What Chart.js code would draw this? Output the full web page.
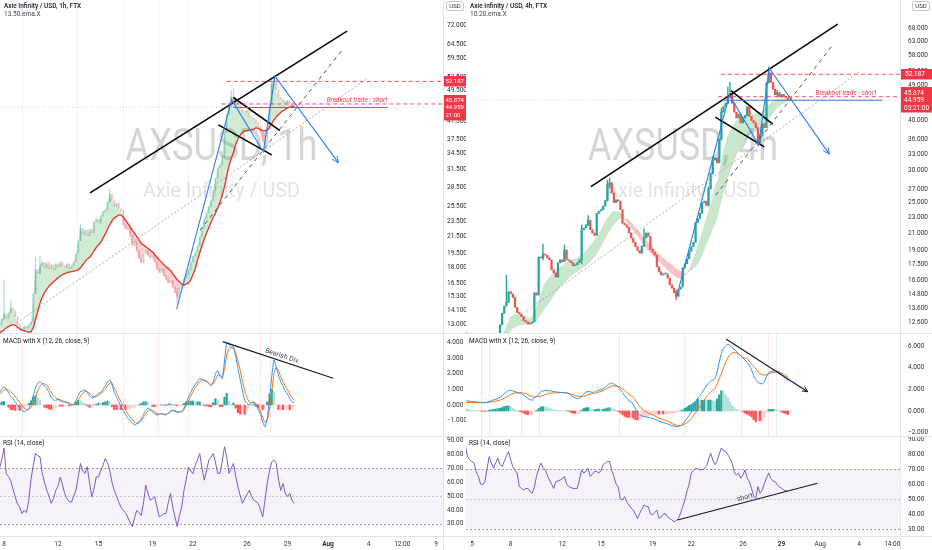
<!DOCTYPE html>
<html>
<head>
<meta charset="utf-8">
<script src="https://cdn.jsdelivr.net/npm/chart.js@4.4.0/dist/chart.umd.min.js"></script>
<style>
  html, body { margin: 0; padding: 0; background: #fff; }
  #wrap { position: relative; width: 932px; height: 550px; overflow: hidden; }
  canvas { position: absolute; }
</style>
</head>
<body>
<div id="wrap">
  <canvas id="lp" width="466" height="333" style="left:0;top:0"></canvas>
  <canvas id="lm" width="466" height="103" style="left:0;top:333px"></canvas>
  <canvas id="lr" width="466" height="114" style="left:0;top:436px"></canvas>
  <canvas id="rp" width="466" height="333" style="left:466px;top:0"></canvas>
  <canvas id="rm" width="466" height="103" style="left:466px;top:333px"></canvas>
  <canvas id="rr" width="466" height="114" style="left:466px;top:436px"></canvas>
</div>
<script>
// x values are days of July (Aug 1 = 32); series are 4h steps
const leftStart = 7 + 2 / 3;
const rightStart = 4.5;
const bandStart = 4.5; // 12h steps

// ---- left chart (AXSUSD 1h) ----
const leftClose = [
  13.0, 13.4,
  13.8, 13.5, 13.9, 14.3, 14.1, 13.6,
  13.0, 12.6, 12.7, 12.9, 12.8, 13.0,
  13.2, 15.5, 17.8, 17.4, 18.2, 18.6,
  18.0, 18.5, 17.9, 18.3, 17.8, 18.4,
  18.1, 18.6, 18.2, 18.0, 18.4, 17.9,
  18.2, 18.6, 19.5, 21.0, 22.5, 21.8,
  22.3, 21.6, 22.4, 22.0, 23.4, 23.8,
  23.2, 24.2, 24.8, 25.0, 26.2, 27.4,
  26.5, 25.6, 26.0, 25.2, 25.0, 23.0,
  22.4, 22.8, 21.6, 20.4, 20.9, 19.8,
  19.0, 18.5, 19.4, 19.9, 19.3, 19.0,
  19.3, 18.6, 17.8, 17.5, 17.9, 17.2,
  16.8, 16.5, 16.7, 16.1, 15.6, 15.2,
  16.0, 16.2, 16.9, 17.3, 17.8, 18.6,
  19.2, 19.6, 20.4, 21.5, 22.6, 23.8,
  24.6, 25.5, 26.4, 28.0, 30.0, 31.8,
  32.4, 33.8, 39.0, 43.2, 46.0, 47.8,
  46.8, 47.2, 45.8, 44.6, 44.0, 43.8,
  44.2, 42.8, 42.4, 41.9, 41.3, 40.2,
  39.0, 37.0, 36.2, 39.8, 46.0, 51.5,
  52.8, 49.8, 47.6, 47.2, 46.6, 46.3,
  46.8, 45.9, 45.5, 44.96
];
const leftEma = [
  12.4, 12.5,
  12.6, 12.75, 12.85, 12.95, 13.0, 12.95,
  12.8, 12.7, 12.6, 12.55, 12.5, 12.45,
  12.5, 12.8, 13.4, 14.0, 14.7, 15.2,
  15.6, 15.9, 16.2, 16.4, 16.6, 16.8,
  17.0, 17.15, 17.3, 17.4, 17.5, 17.55,
  17.6, 17.65, 17.7, 17.8, 18.0, 18.3,
  18.6, 18.9, 19.1, 19.4, 19.8, 20.2,
  20.5, 20.8, 21.3, 21.8, 22.4, 23.0,
  23.5, 23.9, 24.1, 24.3, 24.3, 24.0,
  23.6, 23.2, 22.8, 22.3, 21.9, 21.5,
  21.1, 20.7, 20.5, 20.3, 20.1, 19.9,
  19.7, 19.4, 19.1, 18.8, 18.6, 18.3,
  18.1, 17.9, 17.7, 17.4, 17.1, 16.8,
  16.6, 16.4, 16.3, 16.4, 16.5, 16.8,
  17.3, 17.9, 18.8, 19.6, 20.4, 21.2,
  21.9, 22.6, 23.3, 24.0, 24.6, 25.3,
  26.2, 27.2, 28.6, 30.4, 32.2, 33.6,
  34.8, 36.4, 37.6, 38.4, 39.0, 39.3,
  39.4, 39.5, 39.5, 39.7, 40.0, 39.9,
  39.6, 39.4, 39.4, 39.5, 40.1, 41.0,
  41.9, 42.6, 43.2, 43.7, 44.1, 44.5,
  44.8, 45.0, 45.2, 45.3
];
const leftWickIdx  = [2, 5, 16, 18, 36, 49, 79, 103, 104, 118, 121, 122];
const leftWickLow  = [13.4, 13.9, 15.5, 17.4, 21.0, 26.2, 14.7, 45.5, 46.0, 35.2, 45.5, 51.0];
const leftWickHigh = [16.8, 14.9, 19.1, 19.2, 23.0, 28.2, 16.0, 49.5, 50.0, 38.5, 53.3, 53.8];
const leftMacd = [
  0.8, 1.0,
  1.17, 1.0, 0.8, 0.55, 0.4, 0.2,
  0.0, -0.2, -0.35, -0.43, -0.35, -0.2,
  0.1, 0.6, 1.1, 1.4, 1.49, 1.35,
  1.2, 1.06, 0.8, 0.5, 0.32, 0.3,
  0.35, 0.25, 0.2, 0.18, 0.15, 0.05,
  0.0, 0.05, 0.3, 0.6, 0.85, 0.9,
  0.96, 0.8, 0.6, 0.45, 0.5, 0.6,
  0.74, 0.8, 1.0, 1.2, 1.45, 1.6,
  1.3, 0.8, 0.5, 0.2, -0.1, -0.35,
  -0.6, -0.85, -1.0, -1.15, -1.28, -1.2,
  -1.1, -0.9, -0.6, -0.35, -0.2, -0.3,
  -0.45, -0.55, -0.64, -0.6, -0.55, -0.6,
  -0.64, -0.5, -0.38, -0.32, -0.4, -0.48,
  -0.45, -0.43, -0.2, 0.15, 0.5, 0.8,
  1.1, 1.3, 1.5, 1.7, 1.65, 1.55,
  1.49, 1.35, 1.2, 1.5, 2.0, 2.2,
  1.8, 1.7, 2.8, 3.94, 3.85, 3.7,
  3.72, 3.1, 2.3, 1.6, 0.9, 0.3,
  0.1, 0.0, 0.15, 0.2, 0.0, -0.3,
  -0.6, -1.1, -1.38, -0.8, 0.4, 1.8,
  2.87, 2.4, 1.9, 1.5, 1.2, 0.9,
  0.7, 0.4, 0.2, 0.15
];
const leftSignal = [
  0.7, 0.8, 0.95, 1.0, 0.95, 0.85,
  0.7, 0.55, 0.35, 0.15, -0.05, -0.2,
  -0.3, -0.3, -0.15, 0.1, 0.5, 0.9,
  1.2, 1.35, 1.35, 1.25, 1.05, 0.8,
  0.6, 0.45, 0.38, 0.33, 0.28, 0.22,
  0.18, 0.12, 0.05, 0.02, 0.1, 0.3,
  0.55, 0.75, 0.85, 0.85, 0.75, 0.6,
  0.5, 0.55, 0.62, 0.7, 0.85, 1.0,
  1.2, 1.4, 1.4, 1.1, 0.8, 0.5,
  0.2, -0.05, -0.3, -0.55, -0.75, -0.95,
  -1.1, -1.15, -1.12, -1.0, -0.8, -0.55,
  -0.38, -0.3, -0.35, -0.45, -0.55, -0.58,
  -0.57, -0.58, -0.6, -0.55, -0.45, -0.38,
  -0.38, -0.42, -0.44, -0.43, -0.3, -0.05,
  0.25, 0.55, 0.85, 1.1, 1.3, 1.5,
  1.6, 1.6, 1.55, 1.45, 1.32, 1.35,
  1.6, 1.9, 1.9, 1.8, 2.3, 3.2,
  3.6, 3.65, 3.6, 3.3, 2.8, 2.2,
  1.5, 0.9, 0.45, 0.2, 0.15, 0.15,
  0.1, -0.1, -0.4, -0.8, -1.1, -1.0,
  -0.3, 0.8, 2.0, 2.4, 2.2, 1.8,
  1.5, 1.2, 0.95, 0.7, 0.45, 0.3
];
const leftRsi = [
  70, 76,
  84.5, 66, 64, 61, 55, 49.4,
  44, 42.1, 37.3, 39.7, 38, 46.9,
  62, 72, 80.7, 79, 78.3, 66.3,
  60, 54.3, 50, 44.7, 48, 54,
  57, 63.7, 58, 51.6, 48, 46,
  45.6, 50, 54.3, 64, 73.5, 68,
  66.3, 71.1, 60, 49.5, 55, 63.7,
  63.7, 68.5, 72, 77, 74, 68.5,
  60, 54, 50, 45.6, 42, 39.6,
  38, 34.8, 31, 28, 34, 39.7,
  38, 36, 45, 57.7, 52, 47,
  48, 49.4, 42, 35, 36, 37.4,
  37.4, 45, 51.8, 42, 35, 28,
  36, 42, 54, 62, 70.8, 68,
  66, 72, 76, 80.6, 70, 61.4,
  68, 75.8, 78, 80.6, 74, 66.3,
  66.3, 75, 85.5, 78, 66.3, 70,
  73.5, 64, 56.7, 50, 44.7, 48,
  51, 54, 50, 47, 46, 44.7,
  40, 35, 47, 59, 68, 74.6,
  76, 73.5, 62, 54, 59, 52,
  49.5, 52, 47, 44.7
];

// ---- right chart (AXSUSD 4h) ----
const rightClose = [
  11.0, 11.3, 11.2,
  11.0, 10.8, 10.6, 10.5, 10.6, 10.9,
  11.3, 11.2, 11.1, 11.4, 11.5, 11.3,
  11.6, 12.4, 13.25, 13.8, 14.1, 15.0,
  14.8, 14.5, 13.7, 13.3, 13.2, 13.0,
  12.7, 12.6, 12.45, 12.5, 12.6, 14.9,
  14.7, 18.3, 18.2, 18.6, 18.5, 18.2,
  18.0, 17.0, 16.7, 16.3, 17.7, 18.0,
  17.8, 19.05, 18.0, 17.9, 17.7, 17.4,
  17.5, 17.7, 18.0, 21.4, 21.6, 22.0,
  22.6, 21.4, 21.0, 20.7, 23.5, 23.8,
  24.0, 24.5, 25.3, 27.7, 28.0, 26.4,
  25.0, 25.4, 25.2, 24.0, 22.2, 22.0,
  21.7, 21.0, 20.4, 19.9, 19.4, 19.0,
  18.7, 19.5, 20.4, 21.0, 20.6, 19.1,
  18.8, 18.5, 17.3, 16.8, 16.5, 16.6,
  16.6, 16.2, 15.6, 15.3, 14.9, 14.6,
  15.2, 15.4, 17.2, 17.6, 18.1, 18.9,
  19.4, 19.9, 22.3, 22.8, 23.5, 25.0,
  25.2, 24.6, 27.0, 29.6, 31.9, 32.3,
  31.4, 36.0, 42.0, 43.4, 44.2, 45.8,
  46.7, 44.2, 42.0, 40.6, 41.5, 39.5,
  40.6, 41.2, 43.3, 41.0, 40.0, 39.5,
  38.4, 35.2, 36.9, 39.3, 38.4, 49.8,
  52.6, 49.8, 47.9, 46.4, 47.0, 45.8,
  46.5, 46.0, 45.6, 44.96
];
const rightWickIdx  = [19, 36, 46, 54, 57, 66, 67, 83, 98, 113, 115, 119, 122, 123, 136, 141, 145];
const rightWickLow  = [13.9, 18.0, 17.9, 17.6, 21.9, 25.2, 27.2, 19.4, 14.3, 24.5, 29.4, 35.8, 44.0, 45.5, 34.6, 49.6, 45.8];
const rightWickHigh = [16.5, 19.7, 19.6, 22.0, 23.2, 28.4, 28.8, 21.5, 15.1, 27.4, 32.6, 43.0, 48.5, 49.8, 38.0, 54.4, 47.6];
const rightEmaFast = [
  10.8, 10.9, 10.8, 10.7, 10.9, 11.2, 12.0, 13.0, 13.2, 13.1,
  12.9, 13.8, 15.4, 16.3, 16.9, 17.4, 17.9, 18.1, 18.5, 19.3,
  20.2, 21.4, 22.9, 23.8, 23.6, 22.3, 21.3, 20.3, 19.2, 18.5,
  17.8, 17.2, 16.6, 16.2, 16.4, 17.6, 19.5, 22.0, 24.8, 28.0,
  33.8, 37.8, 40.0, 41.2, 41.8, 41.6, 42.3, 43.8, 45.0, 45.4,
  45.5
];
const rightEmaSlow = [
  10.4, 10.5, 10.6, 10.6, 10.7, 10.8, 11.2, 12.0, 12.3, 12.4,
  12.5, 12.7, 13.4, 14.1, 14.9, 15.6, 16.2, 16.7, 17.1, 17.6,
  18.3, 19.4, 20.8, 22.0, 22.8, 22.8, 22.0, 21.1, 20.2, 19.4,
  18.6, 18.0, 17.5, 17.0, 16.7, 16.9, 17.6, 19.0, 20.8, 22.8,
  26.4, 29.8, 32.8, 35.3, 36.8, 37.5, 38.3, 40.3, 42.4, 43.8,
  44.6
];
const rightMacd = [
  0.95, 0.93, 0.9, 0.88, 0.85, 0.82, 0.8,
  0.78, 0.76, 0.76, 0.8, 0.88, 0.95,
  1.02, 1.08, 1.15, 1.25, 1.4, 1.6,
  1.75, 1.88, 1.91, 1.85, 1.78, 1.7,
  1.65, 1.6, 1.45, 1.3, 1.15, 1.05,
  1.0, 1.2, 1.35, 1.55, 1.75, 1.85,
  1.9, 1.91, 1.88, 1.82, 1.78, 1.76,
  1.74, 1.72, 1.7, 1.68, 1.67, 1.6,
  1.45, 1.3, 1.2, 1.15, 1.18, 1.4,
  1.6, 1.72, 1.82, 1.78, 1.72, 1.75,
  1.85, 1.92, 1.97, 2.05, 2.2, 2.4,
  2.52, 2.58, 2.5, 2.35, 2.21, 2.0,
  1.7, 1.4, 1.15, 0.95, 0.85, 0.6,
  0.2, -0.15, -0.36, -0.45, -0.5, -0.55,
  -0.6, -0.64, -0.67, -0.75, -0.85, -0.95,
  -1.0, -1.08, -1.12, -1.2, -1.28, -1.35,
  -1.4, -1.42, -1.42, -1.35, -1.2, -0.95,
  -0.7, -0.4, -0.1, 0.3, 0.75, 1.2,
  1.4, 1.7, 2.0, 2.3, 2.55, 2.75,
  2.85, 3.0, 3.6, 4.5, 5.3, 5.8,
  6.0, 6.15, 6.05, 5.85, 5.7, 5.5,
  5.3, 5.1, 4.9, 4.7, 4.5, 4.2,
  3.8, 3.3, 2.9, 2.7, 2.55, 2.5,
  2.7, 3.2, 3.55, 3.65, 3.7, 3.72,
  3.7, 3.6, 3.4, 3.2, 3.0, 2.8
];
const rightSignal = [
  0.77, 0.78, 0.79, 0.8, 0.8, 0.8, 0.8,
  0.8, 0.79, 0.79, 0.79, 0.81, 0.84,
  0.87, 0.9, 0.95, 1.0, 1.08, 1.18,
  1.3, 1.42, 1.53, 1.6, 1.65, 1.68,
  1.69, 1.68, 1.65, 1.6, 1.5, 1.4,
  1.32, 1.3, 1.3, 1.33, 1.38, 1.45,
  1.52, 1.58, 1.62, 1.65, 1.67, 1.68,
  1.69, 1.69, 1.69, 1.68, 1.66, 1.63,
  1.58, 1.5, 1.42, 1.36, 1.32, 1.32,
  1.36, 1.42, 1.5, 1.56, 1.6, 1.63,
  1.68, 1.74, 1.82, 1.9, 2.0, 2.12,
  2.22, 2.3, 2.33, 2.3, 2.25, 2.18,
  2.05, 1.9, 1.72, 1.55, 1.4, 1.25,
  1.0, 0.7, 0.4, 0.2, 0.05, -0.05,
  -0.2, -0.3, -0.36, -0.45, -0.55, -0.65,
  -0.73, -0.8, -0.85, -0.95, -1.05, -1.15,
  -1.25, -1.3, -1.36, -1.36, -1.3, -1.2,
  -1.08, -0.9, -0.7, -0.45, -0.15, 0.1,
  0.4, 0.7, 1.0, 1.3, 1.55, 1.75,
  1.9, 2.1, 2.5, 3.0, 3.42, 4.0,
  4.5, 4.94, 5.2, 5.35, 5.39, 5.35,
  5.25, 5.1, 4.95, 4.9, 4.8, 4.6,
  4.35, 4.1, 3.9, 3.6, 3.45, 3.35,
  3.3, 3.35, 3.42, 3.5, 3.55, 3.58,
  3.6, 3.58, 3.5, 3.4, 3.25, 3.12
];
const rightRsi = [
  85, 78, 76, 75, 74, 68, 65,
  60, 59.5, 61.6, 70, 78.3, 74,
  70.5, 74, 77.2, 73, 71.6, 75,
  78.3, 81.7, 76, 71.6, 69, 67.2,
  58.3, 57, 56, 57, 57, 55,
  53.8, 58, 65, 70, 73.9, 71,
  69.4, 66, 62.7, 60, 57, 61.6,
  62, 62.7, 63.5, 65, 60, 58.3,
  57.5, 57.1, 57, 57.1, 63, 69.4,
  67.2, 68.5, 70.5, 65, 66.5, 68.3,
  68.3, 67.2, 69, 72.8, 74, 75,
  75, 69, 65, 60, 58.3, 50,
  49.3, 51.6, 48, 46, 44, 42.6,
  40, 37, 40.4, 43, 46, 45,
  44.9, 40, 39.3, 41, 42.6, 37,
  38, 40, 40.4, 38, 37, 36,
  34.8, 35.5, 37, 40.4, 45, 49.3,
  55, 60, 67.2, 69, 70.5, 70,
  69.5, 69.4, 70, 71.6, 76, 80.6,
  76, 72.8, 75, 80, 84, 82,
  81.7, 79.5, 77, 73.9, 68, 66,
  67.2, 63.8, 66, 69.4, 64, 61.6,
  57.1, 52, 50.4, 58.3, 53.8, 56,
  60.5, 64, 67.2, 63.8, 62, 61.6,
  59.4, 58, 57.1, 56, 55.5, 54.9
];

// ---- levels, ticks, markers ----
const resistance = 52.187;
const breakout = 45.874;
const lastPrice = 44.959;
const leftPriceTicks = [72, 64.5, 59.5, 53.5, 49.5, 41.5, 37.5, 34.5, 31.5, 28.5, 25.5, 23.5, 21.5, 19.5, 18, 16.5, 15.3, 14.1, 13];
const rightPriceTicks = [68, 63, 58, 53, 49, 40, 36, 33, 30, 27, 25, 23, 21, 19, 17.5, 16, 14.8, 13.6, 12.6];
const leftMacdTicks = [4, 3, 2, 1, 0, -1];
const rightMacdTicks = [6, 4, 2, 0, -2];
const rsiTicks = [90, 80, 70, 60, 50, 40, 30];
const leftDayTicks = [8, 12, 15, 19, 22, 26, 29, 32, 35, 37.5, 40];
const leftDayLabels = ['8', '12', '15', '19', '22', '26', '29', 'Aug', '4', '12:00', '9'];
const rightDayTicks = [5, 8, 12, 15, 19, 22, 26, 29, 32, 35, 37.58];
const rightDayLabels = ['5', '8', '12', '15', '19', '22', '26', '29', 'Aug', '4', '14:00'];
const leftCrossDays = [9.33, 13.38, 16.81, 19.4, 21.63, 26.96, 27.7];
const rightCrossDays = [5.7, 6.34, 8.8, 10.22, 16.42, 21.46, 25.85, 27.92, 28.57];

// ---- hand drawings (day, value) ----
const leftTrend = [[14.37, 27.6], [33.41, 69.6]];
const leftFlagTop = [[24.99, 47.6], [28.44, 39.4]];
const leftFlagBottom = [[23.88, 40.7], [27.83, 34.3]];
const leftZigzag = [[20.79, 14.2], [24.86, 47.0], [27.21, 34.9], [28.07, 53.8], [32.77, 32.8]];
const leftBlueLevel = [[24.96, lastPrice], [36.44, lastPrice]];
const leftDashed = [[22.52, 22.3], [33.11, 62.8]];
const leftDotted = [[9.19, 13.3], [34.96, 53.2]];
const leftBearDiv = [[24.2, 4.04], [32.39, 1.70]];
const rightTrend = [[14.22, 27.4], [33.35, 69.6]];
const rightFlagTop = [[25.08, 47.5], [28.31, 39.2]];
const rightFlagBottom = [[23.86, 40.8], [27.66, 34.4]];
const rightZigzag = [[20.87, 14.6], [24.95, 46.4], [27.22, 34.8], [28.05, 54.0], [32.7, 33.0]];
const rightBlueLevel = [[24.56, lastPrice], [36.81, lastPrice]];
const rightDashed = [[23.9, 26.1], [32.96, 61.7]];
const rightDotted = [[9.19, 13.4], [35.02, 52.9]];
const rightMacdLine = [[24.69, 6.65], [31.02, 1.78]];
const rightRsiLine = [[20.93, 36], [31.78, 60.5]];

const FONT = 'Roboto, "Liberation Sans", Arial, sans-serif';
const TXT = '#2a2e39';
const UP = '#26a69a', DOWN = '#ef5350';
const BLUE = '#2f7cf6', REDLINE = 'rgba(242,54,69,0.85)';
Chart.defaults.font.family = FONT;

const pts = (start, step, arr) => arr.map((v, i) => ({ x: start + i * step, y: v }));

function seg(points, color, width, dash) {
  return {
    type: 'line', data: points.map(p => ({ x: p[0], y: p[1] })),
    borderColor: color, borderWidth: width, borderDash: dash || [],
    pointRadius: 0, fill: false, tension: 0, order: 0
  };
}

function candleSets(start, close, wIdx, wLow, wHigh, up, down, bodyW, wickW) {
  const col = i => (i > 0 && close[i] < close[i - 1]) ? down : up;
  return [
    { type: 'bar', data: wIdx.map((k, j) => ({ x: start + k / 6, y: [wLow[j], wHigh[j]] })),
      backgroundColor: wIdx.map(k => col(k)), barThickness: wickW, grouped: false, order: 4 },
    { type: 'bar', data: close.map((c, i) => ({ x: start + i / 6, y: [i > 0 ? close[i - 1] : c, c] })),
      backgroundColor: close.map((c, i) => col(i)), barThickness: bodyW, grouped: false, minBarLength: 1, order: 3 }
  ];
}

function histSet(start, macd, signal, w) {
  const h = macd.map((m, i) => m - signal[i]);
  const colors = h.map((v, i) => {
    const prev = i > 0 ? h[i - 1] : v;
    if (v >= 0) return v >= prev ? '#26a69a' : '#b2dfdb';
    return v <= prev ? '#ff5252' : '#ffcdd2';
  });
  return { type: 'bar', data: h.map((v, i) => ({ x: start + i / 6, y: v })), backgroundColor: colors,
    barThickness: w, grouped: false, order: 5 };
}

function xAxis(min, max, show, vals, labels) {
  return {
    type: 'linear', min, max, bounds: 'data', offset: false, display: show,
    grid: { display: false, drawTicks: false }, border: { display: false },
    afterBuildTicks: s => { if (vals) s.ticks = vals.map(v => ({ value: v })); },
    afterFit: s => { if (show) { s.height = 14; s.paddingLeft = 0; s.paddingRight = 0; } },
    ticks: {
      autoSkip: false, maxRotation: 0, minRotation: 0, padding: 4, color: TXT,
      font: c => ({ size: 6.5, family: FONT, weight: c.index === 7 ? 'bold' : 'normal' }),
      callback: (v, i) => labels ? labels[i] : ''
    }
  };
}

function yAxis(type, min, max, vals, fmt, width, pad) {
  return {
    type, min, max, position: 'right', bounds: 'data',
    grid: { display: false, drawTicks: false }, border: { display: false },
    afterBuildTicks: s => { s.ticks = vals.map(v => ({ value: v })); },
    afterFit: s => { s.width = width; s.paddingTop = 0; s.paddingBottom = 0; },
    ticks: { autoSkip: false, padding: pad, color: TXT, font: { size: 6.5, family: FONT }, callback: v => fmt(v) }
  };
}

const fmt3 = v => (v < 0 ? '\u2212' : '') + Math.abs(v).toFixed(3);
const fmt2 = v => v.toFixed(2);

function baseOptions(x, y) {
  return {
    responsive: false, animation: false, events: [],
    layout: { padding: 0 },
    plugins: { legend: { display: false }, tooltip: { enabled: false } },
    scales: { x, y }
  };
}

function deco(cfg) {
  return {
    id: 'deco',
    beforeDatasetsDraw(chart) {
      const { ctx, chartArea: a } = chart;
      const x = chart.scales.x, y = chart.scales.y;
      ctx.save();
      (cfg.watermark || []).forEach(w => {
        ctx.font = w.font;
        const m = ctx.measureText(w.text).width;
        ctx.save();
        ctx.translate((a.left + a.right) / 2, w.y);
        ctx.scale(w.width / m, 1);
        ctx.fillStyle = w.color; ctx.textAlign = 'center'; ctx.textBaseline = 'alphabetic';
        ctx.fillText(w.text, 0, 0);
        ctx.restore();
      });
      if (cfg.vlines) {
        ctx.strokeStyle = cfg.vlineColor; ctx.lineWidth = 1;
        cfg.vlines.forEach(d => {
          const X = Math.round(x.getPixelForValue(d)) + 0.5;
          ctx.beginPath(); ctx.moveTo(X, a.top); ctx.lineTo(X, a.bottom); ctx.stroke();
        });
      }
      if (cfg.band) {
        const yh = y.getPixelForValue(cfg.band[0]), ym = y.getPixelForValue(cfg.band[1]), yl = y.getPixelForValue(cfg.band[2]);
        ctx.fillStyle = 'rgba(126,87,194,0.08)';
        ctx.fillRect(a.left, yh, a.right - a.left, yl - yh);
        ctx.lineWidth = 1; ctx.setLineDash([2, 2]);
        [[yh, 'rgba(120,123,134,0.7)'], [ym, 'rgba(120,123,134,0.35)'], [yl, 'rgba(120,123,134,0.7)']].forEach(([Y, c]) => {
          ctx.strokeStyle = c; ctx.beginPath();
          ctx.moveTo(a.left, Math.round(Y) + 0.5); ctx.lineTo(a.right, Math.round(Y) + 0.5); ctx.stroke();
        });
        ctx.setLineDash([]);
      }
      ctx.restore();
    },
    afterDatasetsDraw(chart) {
      const { ctx, chartArea: ar } = chart;
      const P = p => [chart.scales.x.getPixelForValue(p[0]), chart.scales.y.getPixelForValue(p[1])];
      ctx.save();
      ctx.beginPath(); ctx.rect(ar.left, ar.top, ar.right - ar.left, ar.bottom - ar.top); ctx.clip();
      (cfg.arrows || []).forEach(r => {
        const a = P(r.from), b = P(r.to);
        const ang = Math.atan2(b[1] - a[1], b[0] - a[0]);
        ctx.strokeStyle = r.color; ctx.lineWidth = 1;
        ctx.beginPath();
        [-0.45, 0.45].forEach(s => {
          ctx.moveTo(b[0], b[1]);
          ctx.lineTo(b[0] - r.len * Math.cos(ang + s), b[1] - r.len * Math.sin(ang + s));
        });
        ctx.stroke();
      });
      (cfg.lineTexts || []).forEach(t => {
        const a = P(t.from), b = P(t.to);
        const ang = Math.atan2(b[1] - a[1], b[0] - a[0]);
        ctx.save();
        ctx.translate(a[0] + (b[0] - a[0]) * t.t, a[1] + (b[1] - a[1]) * t.t);
        ctx.rotate(ang);
        ctx.font = t.font; ctx.fillStyle = t.color; ctx.textAlign = 'center'; ctx.textBaseline = 'bottom';
        ctx.fillText(t.text, 0, -t.off);
        ctx.restore();
      });
      (cfg.texts || []).forEach(t => {
        const p = P(t.at);
        ctx.font = t.font; ctx.fillStyle = t.color; ctx.textAlign = 'center'; ctx.textBaseline = 'alphabetic';
        ctx.fillText(t.text, p[0], p[1] + t.dy);
      });
      ctx.restore();
    },
    afterDraw(chart) {
      const { ctx, chartArea: a, width, height } = chart;
      const y = chart.scales.y;
      ctx.save();
      ctx.strokeStyle = '#e0e3eb'; ctx.lineWidth = 1;
      ctx.beginPath();
      ctx.moveTo(Math.round(a.right) + 0.5, 0); ctx.lineTo(Math.round(a.right) + 0.5, height);
      if (cfg.topLine) { ctx.moveTo(0, 0.5); ctx.lineTo(width, 0.5); }
      if (cfg.bottomLine) { ctx.moveTo(0, Math.round(a.bottom) + 0.5); ctx.lineTo(width, Math.round(a.bottom) + 0.5); }
      ctx.stroke();
      (cfg.titles || []).forEach(t => {
        ctx.font = t.font; ctx.fillStyle = t.color; ctx.textAlign = 'left'; ctx.textBaseline = 'middle';
        ctx.fillText(t.text, t.x, t.y);
      });
      (cfg.boxes || []).forEach(b => {
        const Y = y.getPixelForValue(b.value);
        const h = b.lines.length * 7.5 + 3;
        const x0 = a.right + 1;
        ctx.fillStyle = b.color;
        ctx.fillRect(x0, Math.round(Y - h / 2), width - x0, h);
        ctx.fillStyle = '#fff'; ctx.font = b.font; ctx.textAlign = 'left'; ctx.textBaseline = 'middle';
        b.lines.forEach((s, k) => ctx.fillText(s, x0 + b.pad, Y + (k - (b.lines.length - 1) / 2) * 7.5 + 0.5));
      });
      if (cfg.unit) {
        const bx = width - 20;
        ctx.fillStyle = '#fff'; ctx.fillRect(bx, 1, 18, 10);
        ctx.strokeStyle = '#b2b5be'; ctx.lineWidth = 0.8;
        ctx.beginPath(); ctx.roundRect(bx + 0.5, 1.5, 17, 9, 2); ctx.stroke();
        ctx.fillStyle = TXT; ctx.font = '6px ' + FONT; ctx.textAlign = 'center'; ctx.textBaseline = 'middle';
        ctx.fillText(cfg.unit, bx + 9, 6.5);
      }
      ctx.restore();
    }
  };
}

const L = { xmin: 7.704, xmax: 40.52 };
const R = { xmin: 4.535, xmax: 38.18 };
const WM = 'rgba(60,63,75,0.22)', WM2 = 'rgba(60,63,75,0.15)';
const breakoutFont = 'italic 6.5px ' + FONT;

// ---------- left price ----------
new Chart(document.getElementById('lp'), {
  type: 'bar',
  data: { datasets: [
    { type: 'line', data: pts(leftStart, 1 / 6, leftClose), borderColor: 'rgba(0,0,0,0)', borderWidth: 0, pointRadius: 0, tension: 0,
      fill: { target: 1, above: 'rgba(76,175,80,0.26)', below: 'rgba(242,54,69,0.24)' }, order: 6 },
    { type: 'line', data: pts(leftStart, 1 / 6, leftEma), borderColor: '#e53935', borderWidth: 1.4, pointRadius: 0, tension: 0.2, fill: false, order: 2 },
    ...candleSets(leftStart, leftClose, leftWickIdx, leftWickLow, leftWickHigh, 'rgba(38,166,154,0.38)', 'rgba(239,83,80,0.38)', 1.1, 0.6),
    seg([[L.xmin, lastPrice], [L.xmax, lastPrice]], 'rgba(120,123,134,0.3)', 1, [1, 2]),
    seg(leftDotted, '#9598a1', 0.8, [2, 2]),
    seg(leftDashed, '#50535e', 1, [4, 4]),
    seg([[24.5, resistance], [41, resistance]], REDLINE, 1, [4, 3]),
    seg([[24.1, breakout], [41, breakout]], REDLINE, 1, [4, 3]),
    seg(leftBlueLevel, BLUE, 1.1),
    seg(leftZigzag, BLUE, 1.1),
    seg(leftTrend, '#000', 1.5),
    seg(leftFlagTop, '#000', 1.6),
    seg(leftFlagBottom, '#000', 1.6)
  ] },
  options: baseOptions(xAxis(L.xmin, L.xmax, false), yAxis('logarithmic', 12.39, 83.1, leftPriceTicks, fmt3, 23, 4)),
  plugins: [deco({
    watermark: [
      { text: 'AXSUSD, 1h', font: '44px ' + FONT, width: 192, y: 160, color: WM },
      { text: 'Axie Infinity / USD', font: '20px ' + FONT, width: 157, y: 197, color: WM2 }
    ],
    vlines: leftCrossDays, vlineColor: 'rgba(120,123,134,0.08)',
    arrows: [{ from: leftZigzag[3], to: leftZigzag[4], color: BLUE, len: 7 }],
    texts: [{ at: [34.15, breakout], text: 'Breakout trade - short', font: breakoutFont, color: '#f23645', dy: -1.5 }],
    titles: [
      { text: 'Axie Infinity / USD, 1h, FTX', x: 4, y: 6, font: '500 6.5px ' + FONT, color: '#131722' },
      { text: '13.50.ema.X', x: 4, y: 14, font: '6.5px ' + FONT, color: '#434651' }
    ],
    boxes: [
      { value: resistance, lines: ['52.187'], color: '#f23645', pad: 1.5, font: '6px ' + FONT },
      { value: lastPrice, lines: ['45.874', '44.959', '21:00'], color: '#f23645', pad: 1.5, font: '6px ' + FONT }
    ],
    unit: 'USD'
  })]
});

// ---------- left MACD ----------
new Chart(document.getElementById('lm'), {
  type: 'bar',
  data: { datasets: [
    { type: 'line', data: pts(leftStart, 1 / 6, leftMacd), borderColor: '#2196f3', borderWidth: 1, pointRadius: 0, tension: 0.2, fill: false, order: 1 },
    { type: 'line', data: pts(leftStart, 1 / 6, leftSignal), borderColor: '#ff6d00', borderWidth: 1, pointRadius: 0, tension: 0.2, fill: false, order: 2 },
    histSet(leftStart, leftMacd, leftSignal, 1.5),
    seg(leftBearDiv, '#131722', 1.1)
  ] },
  options: baseOptions(xAxis(L.xmin, L.xmax, false), yAxis('linear', -1.98, 4.59, leftMacdTicks, fmt3, 23, 4)),
  plugins: [deco({
    vlines: leftCrossDays, vlineColor: 'rgba(242,54,69,0.12)',
    topLine: true,
    lineTexts: [{ from: leftBearDiv[0], to: leftBearDiv[1], t: 0.52, off: 1.5, text: 'Bearish Div', font: '7px ' + FONT, color: '#434651' }],
    titles: [{ text: 'MACD with X (12, 26, close, 9)', x: 3, y: 8, font: '6.5px ' + FONT, color: '#131722' }]
  })]
});

// ---------- left RSI ----------
new Chart(document.getElementById('lr'), {
  type: 'line',
  data: { datasets: [
    { data: pts(leftStart, 1 / 6, leftRsi), borderColor: '#7e57c2', borderWidth: 1, pointRadius: 0, tension: 0, fill: false, order: 1 }
  ] },
  options: baseOptions(xAxis(L.xmin, L.xmax, true, leftDayTicks, leftDayLabels), yAxis('linear', 21.2, 93.2, rsiTicks, fmt2, 23, 4)),
  plugins: [deco({
    band: [70, 50, 30], topLine: true, bottomLine: true,
    titles: [{ text: 'RSI (14, close)', x: 3, y: 7, font: '6.5px ' + FONT, color: '#131722' }]
  })]
});

// ---------- right price ----------
new Chart(document.getElementById('rp'), {
  type: 'bar',
  data: { datasets: [
    { type: 'line', data: pts(bandStart, 0.5, rightEmaFast), borderColor: 'rgba(0,0,0,0)', borderWidth: 0, pointRadius: 0, tension: 0.3,
      fill: { target: 1, above: 'rgba(76,175,80,0.3)', below: 'rgba(242,54,69,0.3)' }, order: 7 },
    { type: 'line', data: pts(bandStart, 0.5, rightEmaSlow), borderColor: 'rgba(0,0,0,0)', borderWidth: 0, pointRadius: 0, tension: 0.3, fill: false, order: 7 },
    ...candleSets(rightStart, rightClose, rightWickIdx, rightWickLow, rightWickHigh, UP, DOWN, 1.6, 0.7),
    seg([[R.xmin, lastPrice], [R.xmax, lastPrice]], 'rgba(242,54,69,0.25)', 1, [1, 2]),
    seg(rightDotted, '#9598a1', 0.8, [2, 2]),
    seg(rightDashed, '#50535e', 1, [4, 4]),
    seg([[24.3, resistance], [39, resistance]], REDLINE, 1, [4, 3]),
    seg([[24.07, breakout], [39, breakout]], REDLINE, 1, [4, 3]),
    seg(rightBlueLevel, BLUE, 1.1),
    seg(rightZigzag, BLUE, 1.1),
    seg(rightTrend, '#000', 1.5),
    seg(rightFlagTop, '#000', 1.6),
    seg(rightFlagBottom, '#000', 1.6)
  ] },
  options: baseOptions(xAxis(R.xmin, R.xmax, false), yAxis('logarithmic', 11.83, 79.9, rightPriceTicks, fmt3, 32, 8)),
  plugins: [deco({
    watermark: [
      { text: 'AXSUSD, 4h', font: '44px ' + FONT, width: 190, y: 160, color: WM },
      { text: 'Axie Infinity / USD', font: '20px ' + FONT, width: 155, y: 197, color: WM2 }
    ],
    arrows: [{ from: rightZigzag[3], to: rightZigzag[4], color: BLUE, len: 7 }],
    texts: [{ at: [33.99, breakout], text: 'Breakout trade - short', font: breakoutFont, color: '#f23645', dy: -1.5 }],
    titles: [
      { text: 'Axie Infinity / USD, 4h, FTX', x: 4, y: 6, font: '500 6.5px ' + FONT, color: '#131722' },
      { text: '10.20.ema.X', x: 4, y: 14, font: '6.5px ' + FONT, color: '#434651' }
    ],
    boxes: [
      { value: resistance, lines: ['52.187'], color: '#f23645', pad: 4, font: '6.5px ' + FONT },
      { value: lastPrice, lines: ['45.874', '44.959', '03:21:00'], color: '#f23645', pad: 3, font: '6.5px ' + FONT }
    ],
    unit: 'USD'
  })]
});

// ---------- right MACD ----------
new Chart(document.getElementById('rm'), {
  type: 'bar',
  data: { datasets: [
    { type: 'line', data: pts(rightStart, 1 / 6, rightMacd), borderColor: '#2196f3', borderWidth: 1, pointRadius: 0, tension: 0.3, fill: false, order: 1 },
    { type: 'line', data: pts(rightStart, 1 / 6, rightSignal), borderColor: '#ff6d00', borderWidth: 1, pointRadius: 0, tension: 0.3, fill: false, order: 2 },
    histSet(rightStart, rightMacd, rightSignal, 1.6),
    seg(rightMacdLine, '#131722', 1.1)
  ] },
  options: baseOptions(xAxis(R.xmin, R.xmax, false), yAxis('linear', -2.31, 7.2, rightMacdTicks, fmt3, 32, 8)),
  plugins: [deco({
    vlines: rightCrossDays, vlineColor: 'rgba(242,54,69,0.13)',
    topLine: true,
    arrows: [{ from: rightMacdLine[0], to: rightMacdLine[1], color: '#131722', len: 6 }],
    titles: [{ text: 'MACD with X (12, 26, close, 9)', x: 3, y: 8, font: '6.5px ' + FONT, color: '#131722' }]
  })]
});

// ---------- right RSI ----------
new Chart(document.getElementById('rr'), {
  type: 'line',
  data: { datasets: [
    { data: pts(rightStart, 1 / 6, rightRsi), borderColor: '#7e57c2', borderWidth: 1, pointRadius: 0, tension: 0, fill: false, order: 1 },
    seg(rightRsiLine, '#131722', 1.1)
  ] },
  options: baseOptions(xAxis(R.xmin, R.xmax, true, rightDayTicks, rightDayLabels), yAxis('linear', 25.3, 92, rsiTicks, fmt2, 32, 8)),
  plugins: [deco({
    band: [70, 50, 30], topLine: true, bottomLine: true,
    lineTexts: [{ from: rightRsiLine[0], to: rightRsiLine[1], t: 0.49, off: 1, text: 'short', font: '7px ' + FONT, color: '#434651' }],
    titles: [{ text: 'RSI (14, close)', x: 3, y: 7, font: '6.5px ' + FONT, color: '#131722' }]
  })]
});
</script>
</body>
</html>
